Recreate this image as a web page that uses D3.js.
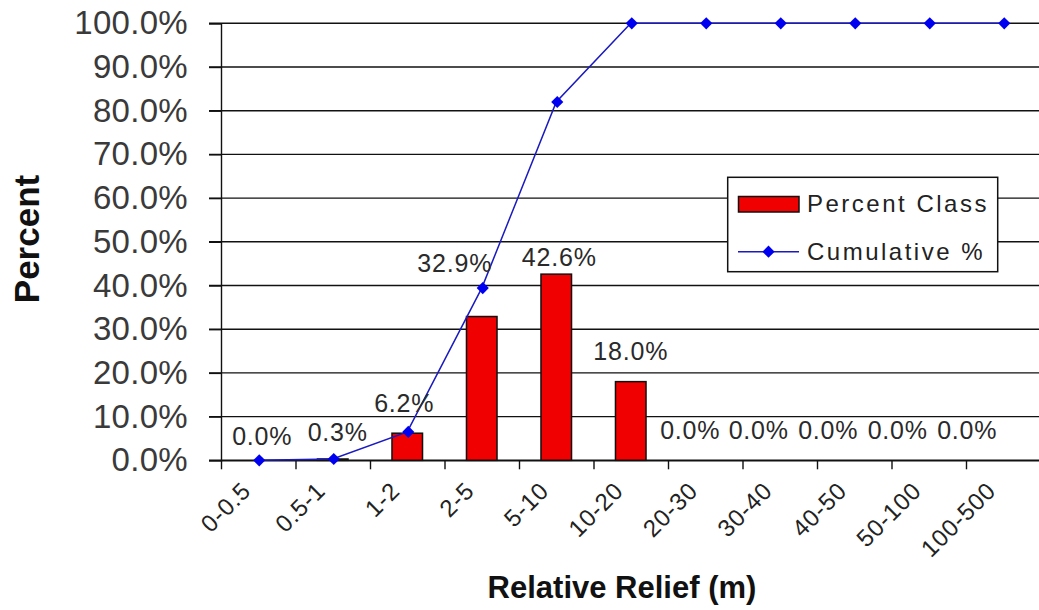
<!DOCTYPE html>
<html>
<head>
<meta charset="utf-8">
<script src="https://cdn.jsdelivr.net/npm/d3@7"></script>
<style>
  html, body { margin: 0; padding: 0; background: #fff; }
  svg { display: block; font-family: "Liberation Sans", Arial, sans-serif; }
</style>
</head>
<body>
<svg id="chart" width="1039" height="610"></svg>
<script>
// Relative relief classes (m)
const categories = ["0-0.5", "0.5-1", "1-2", "2-5", "5-10", "10-20", "20-30", "30-40", "40-50", "50-100", "100-500"];
// Share of each class, percent
const percentClass = [0.0, 0.3, 6.2, 32.9, 42.6, 18.0, 0.0, 0.0, 0.0, 0.0, 0.0];
// Running total, percent
const cumulative = [0.0, 0.3, 6.5, 39.4, 82.0, 100.0, 100.0, 100.0, 100.0, 100.0, 100.0];
// Y axis ticks (fractions)
const yTicks = [0, 0.1, 0.2, 0.3, 0.4, 0.5, 0.6, 0.7, 0.8, 0.9, 1.0];
const seriesNames = ["Percent Class", "Cumulative %"];

// Hand placement of the value labels: [dx, dy] from the default spot above each bar
const labelNudge = [[4, 5], [5, 2], [-3, -1], [-27, -25], [3, 12], [0, -2],
                    [-15, -1], [-21, -1], [-26, -1], [-31, -1], [-36, -1]];

const svg = d3.select("#chart");
const plotL = 221, plotR = 1040.5, plotT = 23.3, plotB = 460.3;

const x = d3.scaleBand().domain(categories).range([plotL, plotR]).padding(0);
const xIdx = d3.scaleLinear().domain([0, categories.length]).range([plotL, plotR]);
const y = d3.scaleLinear().domain([0, 1]).range([plotB, plotT]);
const barW = x.bandwidth() * 0.41;
const cx = c => x(c) + x.bandwidth() / 2;

// Horizontal gridlines
svg.append("g").selectAll("line").data(yTicks).join("line")
  .attr("x1", 209).attr("x2", 1045)
  .attr("y1", d => y(d)).attr("y2", d => y(d))
  .attr("stroke", "#111").attr("stroke-width", 1.4);

// Y axis
const yAxis = svg.append("g").attr("transform", `translate(${plotL},0)`)
  .call(d3.axisLeft(y).tickValues(yTicks).tickFormat(d3.format(".1%")).tickSize(12).tickPadding(21));
yAxis.select(".domain").attr("stroke", "#111").attr("stroke-width", 1.4);
yAxis.selectAll(".tick line").attr("stroke", "#111").attr("stroke-width", 1.4);
yAxis.selectAll(".tick text")
  .attr("font-size", 33).attr("fill", "#3a3a3a").attr("letter-spacing", 0.3)
  .attr("font-family", "'Liberation Sans', Arial, sans-serif");

// X axis with ticks on class boundaries
const xAxis = svg.append("g").attr("transform", `translate(0,${plotB})`)
  .call(d3.axisBottom(xIdx).tickValues(d3.range(categories.length + 1)).tickFormat("").tickSizeInner(9).tickSizeOuter(0));
xAxis.select(".domain").attr("stroke", "#111").attr("stroke-width", 1.6);
xAxis.selectAll(".tick line").attr("stroke", "#111").attr("stroke-width", 1.4);

// Rotated class labels
svg.append("g").selectAll("text").data(categories).join("text")
  .attr("transform", d => `translate(${cx(d) - 12},${plotB + 26}) rotate(-45)`)
  .attr("text-anchor", "end").attr("dy", "0.35em")
  .attr("font-size", 24).attr("letter-spacing", 0.8).attr("fill", "#222")
  .text(d => d);

// Bars
svg.append("g").selectAll("rect").data(categories).join("rect")
  .attr("x", d => cx(d) - barW / 2)
  .attr("width", barW)
  .attr("y", (d, i) => y(percentClass[i] / 100))
  .attr("height", (d, i) => plotB - y(percentClass[i] / 100))
  .attr("fill", "#f00000").attr("stroke", "#111").attr("stroke-width", 1.5);

// Cumulative line
const line = d3.line().x((d, i) => cx(categories[i])).y(d => y(d / 100));
svg.append("path").datum(cumulative)
  .attr("d", line).attr("fill", "none")
  .attr("stroke", "#1a1ac0").attr("stroke-width", 1.5);

const marker = d3.symbol().type(d3.symbolSquare).size(74);
svg.append("g").selectAll("path").data(cumulative).join("path")
  .attr("transform", (d, i) => `translate(${cx(categories[i]) + 1},${y(d / 100)}) rotate(45)`)
  .attr("d", marker)
  .attr("fill", "#0000f0");

// Value labels
svg.append("g").selectAll("text").data(percentClass).join("text")
  .attr("x", (d, i) => cx(categories[i]) + labelNudge[i][0])
  .attr("y", (d, i) => y(d / 100) - 20 + labelNudge[i][1])
  .attr("text-anchor", "middle")
  .attr("font-size", 25).attr("letter-spacing", 0.8).attr("fill", "#2a2a2a")
  .text(d => d3.format(".1f")(d) + "%");

// Legend
const lg = svg.append("g");
lg.append("rect").attr("x", 727.7).attr("y", 177.3).attr("width", 270).attr("height", 94.4)
  .attr("fill", "#fff").attr("stroke", "#111").attr("stroke-width", 1.5);
lg.append("rect").attr("x", 738.5).attr("y", 196.5).attr("width", 60.5).attr("height", 15.5)
  .attr("fill", "#f00000").attr("stroke", "#111").attr("stroke-width", 1.5);
lg.append("line").attr("x1", 738).attr("x2", 799).attr("y1", 251.7).attr("y2", 251.7)
  .attr("stroke", "#1a1ac0").attr("stroke-width", 1.5);
lg.append("path").attr("transform", "translate(768.5,251.7) rotate(45)")
  .attr("d", marker).attr("fill", "#0000f0");
lg.selectAll("text.lab").data(seriesNames).join("text").attr("class", "lab")
  .attr("x", 807).attr("y", (d, i) => 211.7 + i * 48.5)
  .attr("font-size", 24).attr("letter-spacing", 2.5).attr("fill", "#222")
  .text(d => d);

// Axis titles
svg.append("text").attr("transform", "translate(39,239) rotate(-90)")
  .attr("text-anchor", "middle").attr("font-size", 35).attr("font-weight", "bold").attr("fill", "#111")
  .text("Percent");
svg.append("text").attr("x", 622).attr("y", 598)
  .attr("text-anchor", "middle").attr("font-size", 31).attr("font-weight", "bold").attr("fill", "#111")
  .text("Relative Relief (m)");
</script>
</body>
</html>
